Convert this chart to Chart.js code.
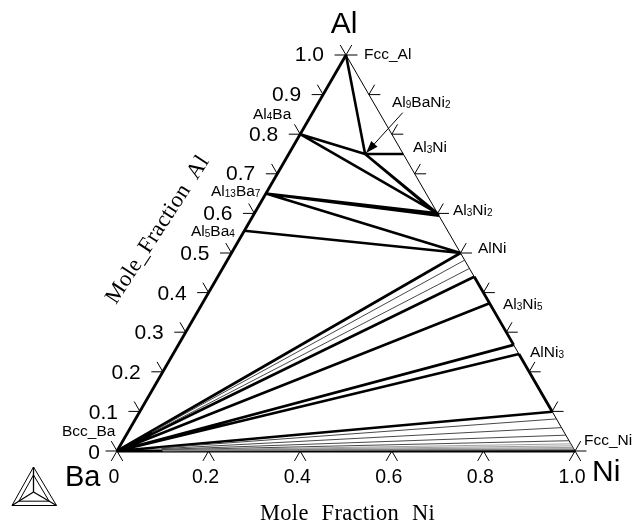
<!DOCTYPE html>
<html>
<head>
<meta charset="utf-8">
<style>
  html, body { margin: 0; padding: 0; background: #fff; }
  canvas { display: block; }
</style>
<script src="https://cdn.jsdelivr.net/npm/chart.js@4"></script>
</head>
<body>
<canvas id="ternaryCanvas" width="634" height="522"></canvas>
<script>
// Al-Ba-Ni isothermal section. Compositions are [mole fraction Ni, mole fraction Al]
const fccAl = [0, 1];
const al4Ba = [0, 0.8];
const al13Ba7 = [0, 0.65];
const al5Ba4 = [0, 0.556];
const al9BaNi2 = [0.1667, 0.75];
const al3Ni = [0.25, 0.75];
const al3Ni2 = [0.4, 0.6];
const al3Ni2Low = [0.406, 0.594];
const alNi = [0.5, 0.5];

const alTicks = [0, 0.1, 0.2, 0.3, 0.4, 0.5, 0.6, 0.7, 0.8, 0.9, 1];
const alTickLabels = ['0', '0.1', '0.2', '0.3', '0.4', '0.5', '0.6', '0.7', '0.8', '0.9', '1.0'];
const niTicks = [0, 0.2, 0.4, 0.6, 0.8, 1];
const niTickLabels = ['0', '0.2', '0.4', '0.6', '0.8', '1.0'];

// three phase tie lines in the Al rich corner
const tieLines = [
    [fccAl, al9BaNi2],
    [al9BaNi2, al3Ni],
    [al9BaNi2, al3Ni2],
    [al9BaNi2, al3Ni2Low],
    [al4Ba, al9BaNi2],
    [al4Ba, al3Ni2],
    [al13Ba7, al3Ni2],
    [al13Ba7, al3Ni2Low],
    [al13Ba7, alNi],
    [al5Ba4, alNi]
];

// the fan from Bcc_Ba, given by the Al fraction where each ray hits the Al-Ni side
const boldRays = [0.5, 0.44, 0.373, 0.268, 0.245, 0.0993];
const baseRay = [0];
const thinRays = [0.482, 0.461];
const lowRays = [0.081, 0.059, 0.04, 0.026];
const greyRays = [0.018, 0.013, 0.009, 0.006, 0.003];

// stretches of the Al-Ni side that are single phase, drawn heavy
const boldEdgeAl = [[0.44, 0.268], [0.245, 0.0993]];

const phaseNames = ['Fcc_Al', 'Al4Ba', 'Al9BaNi2', 'Al3Ni', 'Al13Ba7', 'Al3Ni2', 'Al5Ba4', 'AlNi', 'Al3Ni5', 'AlNi3', 'Fcc_Ni', 'Bcc_Ba'];
const phaseSpots = [[364, 59], [253, 119], [392, 107], [413, 152], [211, 196], [453, 215], [191, 236], [478, 253], [503, 309], [530, 357], [584, 445], [62, 436]];

const TICK = 0.025;

function edgePoint(al) {
    return [1 - al, al];
}

// ternary composition -> plot point
function toXY(c) {
    return { x: c[0] + c[1] / 2, y: c[1] };
}

// list of [from, to] pairs into one line with gaps
function segments(list) {
    const pts = [];
    list.forEach(s => {
        pts.push(toXY(s[0]), toXY(s[1]), { x: NaN, y: NaN });
    });
    return pts;
}

function lineSet(list, width, color) {
    return {
        data: segments(list),
        showLine: true,
        borderColor: color,
        borderWidth: width,
        pointRadius: 0,
        clip: false,
        spanGaps: false
    };
}

function rays(list, start) {
    return list.map(al => {
        const end = edgePoint(al);
        return [[end[0] * start, end[1] * start], end];
    });
}

const tickSegs = [];
alTicks.forEach(a => {
    tickSegs.push([[0, a], [-TICK, a]], [[0, a], [-TICK, a + TICK]]);
    const e = edgePoint(a);
    tickSegs.push([e, [e[0] + TICK, a]], [e, [e[0], a + TICK]]);
});
niTicks.forEach(n => {
    tickSegs.push([[n, 0], [n, -TICK]], [[n, 0], [n + TICK, -TICK]]);
});

// text and the little logo are laid over the plot after the lines
const annotations = {
    id: 'annotations',
    afterDraw(chart) {
        const c = chart.ctx;
        const px = p => {
            const q = toXY(p);
            return [chart.scales.x.getPixelForValue(q.x), chart.scales.y.getPixelForValue(q.y)];
        };
        c.save();
        c.fillStyle = '#000';
        c.strokeStyle = '#000';
        c.textBaseline = 'alphabetic';

        const sans = 'Liberation Sans';
        c.font = '21px "' + sans + '"';
        c.textAlign = 'right';
        alTicks.forEach((a, i) => {
            const p = px([0, a]);
            c.fillText(alTickLabels[i], p[0] - (a === 0 ? 17 : 22), p[1] + 7.5 - 1.5 * a);
        });
        c.font = '19.5px "' + sans + '"';
        c.textAlign = 'center';
        niTicks.forEach((n, i) => {
            const p = px([n, 0]);
            c.fillText(niTickLabels[i], p[0] - 3, p[1] + 32);
        });

        c.font = '30px "' + sans + '"';
        c.fillText('Al', 344, 33);
        c.textAlign = 'left';
        c.font = '29px "' + sans + '"';
        c.fillText('Ba', 65, 486);
        c.font = '30px "' + sans + '"';
        c.fillText('Ni', 592, 481);

        // phase labels, digits set small
        c.textAlign = 'left';
        phaseNames.forEach((name, i) => {
            let x = phaseSpots[i][0];
            const y = phaseSpots[i][1];
            name.split(/(\d+)/).forEach(part => {
                const isSub = /^\d+$/.test(part);
                c.font = (isSub ? '10px "' : '15.5px "') + sans + '"';
                c.fillText(part, x, isSub ? y + 0.5 : y);
                x += c.measureText(part).width;
            });
        });

        // axis titles
        c.font = '22.5px "Liberation Serif"';
        c.letterSpacing = '0.3px';
        c.wordSpacing = '7px';
        c.fillText('Mole Fraction Ni', 260, 520);
        c.save();
        c.translate(116, 305);
        c.rotate(-57 * Math.PI / 180);
        c.wordSpacing = '5px';
        c.fillText('Mole_Fraction Al', 0, 0);
        c.restore();
        c.letterSpacing = '0px';
        c.wordSpacing = '0px';

        // arrow pointing at Al9BaNi2
        const tip = px(al9BaNi2);
        const tail = [402.7, 112.7];
        const ang = Math.atan2(tail[1] - tip[1], tail[0] - tip[0]);
        c.lineWidth = 1;
        c.beginPath();
        c.moveTo(tail[0], tail[1]);
        c.lineTo(tip[0] + 1, tip[1] - 1);
        c.stroke();
        c.beginPath();
        c.moveTo(tip[0] + 1, tip[1] - 1);
        c.lineTo(tip[0] + 1 + 13 * Math.cos(ang - 0.33), tip[1] - 1 + 13 * Math.sin(ang - 0.33));
        c.lineTo(tip[0] + 1 + 13 * Math.cos(ang + 0.33), tip[1] - 1 + 13 * Math.sin(ang + 0.33));
        c.closePath();
        c.fill();

        // logo
        const logo = [[33.5, 467], [12, 505.5], [56.5, 505.5]];
        const mid = [33.5, 492];
        const tri = k => {
            c.beginPath();
            logo.forEach((v, i) => {
                const lx = mid[0] + (v[0] - mid[0]) * k;
                const ly = mid[1] + (v[1] - mid[1]) * k;
                if (i === 0) c.moveTo(lx, ly); else c.lineTo(lx, ly);
            });
            c.closePath();
            c.stroke();
        };
        c.lineWidth = 1;
        tri(1);
        tri(0.68);
        c.lineWidth = 1.3;
        logo.forEach(v => {
            c.beginPath();
            c.moveTo(mid[0], mid[1]);
            c.lineTo(v[0], v[1]);
            c.stroke();
        });
        c.restore();
    }
};

const ctx = document.getElementById('ternaryCanvas').getContext('2d');
const myChart = new Chart(ctx, {
    type: 'scatter',
    data: {
        datasets: [
            lineSet(rays(greyRays, 0.1), 0.8, '#888888'),
            lineSet(rays(lowRays, 0.1), 0.9, '#333333'),
            lineSet(rays(thinRays, 0.1), 0.9, '#333333'),
            lineSet(tickSegs, 1, '#000000'),
            lineSet([[fccAl, [1, 0]]], 1, '#000000'),
            lineSet(boldEdgeAl.map(b => [edgePoint(b[0]), edgePoint(b[1])]), 2.8, '#000000'),
            lineSet([[[0, 0], fccAl]], 2.8, '#000000'),
            lineSet(tieLines, 2.6, '#000000'),
            lineSet(rays(boldRays, 0), 2.6, '#000000'),
            lineSet(rays(baseRay, 0), 3.2, '#000000')
        ]
    },
    options: {
        responsive: false,
        animation: false,
        layout: { padding: { left: 117, right: 59, top: 55, bottom: 71 } },
        scales: {
            x: { type: 'linear', min: 0, max: 1, display: false },
            y: { type: 'linear', min: 0, max: 1, display: false }
        },
        plugins: {
            legend: { display: false },
            tooltip: { enabled: false }
        }
    },
    plugins: [annotations]
});
</script>
</body>
</html>
